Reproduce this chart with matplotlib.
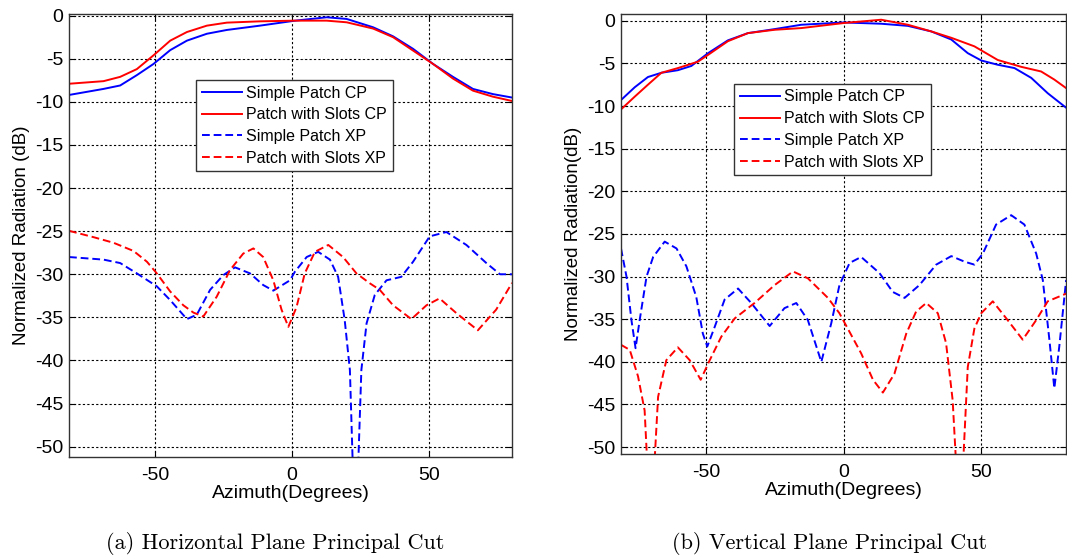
import numpy as np
import matplotlib
matplotlib.use("Agg")
import matplotlib.pyplot as plt

plt.rcParams['font.family'] = ['Liberation Sans', 'DejaVu Sans']
plt.rcParams['axes.unicode_minus'] = False

labels = ["Simple Patch CP", "Patch with Slots CP", "Simple Patch XP", "Patch with Slots XP"]

# (a) horizontal plane principal cut
h_sp_cp_x = [-81.5, -68.9, -62.8, -56.7, -50.6, -44.5, -38.4, -31.1, -23.8, -11.7, 1.2, 12.7, 20, 29.7,
             37, 44.3, 51.6, 58.9, 66.2, 73.5, 80.5]
h_sp_cp_y = [-9.2, -8.5, -8.1, -6.9, -5.6, -4.0, -2.9, -2.1, -1.66, -1.16, -0.58, -0.19, -0.38, -1.35,
             -2.4, -3.85, -5.6, -7.1, -8.5, -9.1, -9.5]
h_ps_cp_x = [-81.5, -68.9, -62.8, -56.7, -50.6, -44.5, -38.4, -31.1, -23.8, -11.7, 1.2, 12.7, 20, 29.7,
             37, 44.3, 51.6, 58.9, 66.2, 73.5, 80.5]
h_ps_cp_y = [-7.9, -7.6, -7.1, -6.2, -4.6, -2.9, -1.9, -1.16, -0.81, -0.66, -0.58, -0.58, -0.77, -1.5,
             -2.5, -4.05, -5.6, -7.3, -8.7, -9.4, -9.9]
h_sp_xp_x = [-81.5, -68.9, -62.8, -56.7, -49.4, -44.5, -38.4, -34.8, -29.9, -25.1, -20.8, -15.3, -10.5,
             -6.8, -0.7, 1.1, 5.4, 9.6, 13.9, 16.9, 19.3, 21.2, 23.2, 25.4, 27.3, 30.3, 34.6, 40.0, 44.3,
             50.4, 56.5, 63.8, 71.1, 76.1, 80.5]
h_sp_xp_y = [-28.0, -28.3, -28.7, -29.9, -31.4, -33.0, -35.2, -34.7, -31.8, -30.1, -29.2, -29.9, -31.25,
             -31.9, -30.7, -29.7, -28.0, -27.4, -28.3, -30.3, -35.3, -41.1, -62, -41.1, -35.7, -32.4, -30.7, -30.3, -28.55,
             -25.6, -25.1, -26.6, -28.7, -30.0, -30.0]
h_ps_xp_x = [-81.5, -72.5, -65.2, -57.9, -53, -49.4, -44.5, -39.7, -36, -32.4, -27.5, -22.6, -17.8, -14.1,
             -10.5, -6.8, -3.8, -1.3, 1.7, 4.7, 8.4, 13.3, 18.7, 23.6, 28.5, 32.1, 37, 43.7, 49.2, 54,
             60.1, 68, 74.7, 80.5]
h_ps_xp_y = [-24.96, -25.7, -26.35, -27.3, -28.55, -29.9, -32.0, -33.6, -34.45, -34.9, -32.6, -29.5, -27.6, -27.0,
             -28.0, -30.7, -34.1, -36.1, -33.8, -29.9, -27.4, -26.6, -28.0, -29.9, -31.05, -31.8, -33.6, -35.2, -33.6, -32.8,
             -34.5, -36.5, -34.1, -31.0]

# (b) vertical plane principal cut
v_sp_cp_x = [-81, -76, -71.2, -66.3, -60.3, -55.4, -49.3, -42.1, -34.8, -25.1, -15.4, 0, 13.7, 23.4, 31.9,
             39.2, 45.2, 50.1, 56.1, 62.2, 68.3, 74.3, 81]
v_sp_cp_y = [-9.3, -7.8, -6.6, -6.1, -5.8, -5.3, -3.8, -2.3, -1.45, -0.98, -0.47, -0.2, -0.35, -0.6, -1.25,
             -2.2, -3.8, -4.66, -5.16, -5.55, -6.7, -8.5, -10.2]
v_ps_cp_x = [-81, -76, -71.2, -66.3, -60.3, -53, -49.3, -42.1, -34.8, -25.1, -15.4, 0, 13.7, 23.4, 31.9,
             39.2, 47.6, 56.1, 64.6, 71.9, 76.7, 81]
v_ps_cp_y = [-10.4, -8.9, -7.5, -6.1, -5.55, -4.8, -4.0, -2.4, -1.45, -1.06, -0.86, -0.27, 0.12, -0.47, -1.25,
             -2.0, -3.0, -4.6, -5.4, -5.95, -6.9, -7.9]
v_sp_xp_x = [-81, -79, -77.2, -75.7, -74.2, -71.7, -69.3, -65.1, -60.8, -57.2, -53.6, -51.2, -49.6, -46.9,
             -43.3, -38.4, -33.6, -26.9, -21.5, -17.2, -13, -8.1, -4.5, -1.5, 2.2, 6.4, 13.1, 17.9, 22.2,
             27.6, 33.7, 39.2, 44, 47.6, 50.7, 55.5, 61, 65.8, 70.1, 72.5, 74.9, 76.7, 78.5, 81]
v_sp_xp_y = [-26.7, -30.0, -35.1, -38.4, -35.1, -30.0, -27.7, -25.9, -26.7, -28.8, -32.4, -36.7, -38.2, -35.9,
             -32.7, -31.4, -33.1, -35.8, -33.7, -33.1, -35.1, -40.0, -35.5, -31.0, -28.4, -27.7, -29.6, -31.8, -32.5,
             -31.0, -28.6, -27.6, -28.25, -28.6, -27.3, -23.9, -22.8, -23.9, -27.3, -30.4, -37.4, -43.1, -38.2, -30.4]
v_ps_xp_x = [-81, -77.8, -74.8, -72.4, -70.2, -67.5, -64.5, -60.3, -56, -52, -48.7, -44.5, -39.6, -32.4,
             -25.1, -18.4, -13, -5.7, -1.5, 6.4, 10.7, 14.3, 18.5, 22.8, 26.4, 30.1, 34.3, 37.3, 39.7,
             42.3, 45.2, 47.6, 50.1, 54.3, 59.7, 65.2, 70.1, 74.3, 81]
v_ps_xp_y = [-38.0, -38.6, -41.7, -45.7, -60, -44.1, -39.8, -38.3, -39.8, -42.1, -39.8, -37.05, -34.9, -33.1,
             -31.0, -29.4, -30.2, -32.5, -34.3, -39.0, -42.1, -43.6, -41.4, -36.7, -34.1, -33.1, -34.3, -37.8, -44.5,
             -60, -40.6, -36.1, -34.3, -32.9, -35.1, -37.4, -35.1, -32.9, -32.0]

fig = plt.figure(figsize=(10.67, 5.57), dpi=100)
ax1 = fig.add_axes([0.0647, 0.1795, 0.4152, 0.7955])
ax2 = fig.add_axes([0.582, 0.185, 0.4172, 0.790])


def draw(ax, data, xlim, ylim, ylabel, leg_anchor):
    styles = [('b', '-'), ('r', '-'), ('b', (0, (4, 2))), ('r', (0, (4, 2)))]
    for (x, y), (c, ls), lab in zip(data, styles, labels):
        ax.plot(x, y, color=c, linestyle=ls, lw=1.4, label=lab)
    ax.set_xlim(*xlim)
    ax.set_ylim(*ylim)
    ax.set_xticks([-50, 0, 50])
    ax.set_yticks(np.arange(0, -51, -5))
    ax.grid(True, color='k', linestyle=(0, (2, 2)), linewidth=0.8)
    ax.tick_params(direction='in', top=True, right=True, labelsize=14, length=4)
    ax.tick_params(axis='x', pad=7)
    ax.tick_params(axis='y', pad=4)
    for s in ax.spines.values():
        s.set_color('#333333')
        s.set_linewidth(1.0)
    ax.set_xlabel("Azimuth(Degrees)", fontsize=14, labelpad=1)
    ax.set_ylabel(ylabel, fontsize=13.5, labelpad=4)
    leg = ax.legend(loc='upper left', bbox_to_anchor=leg_anchor, fontsize=11.5, fancybox=False,
                    framealpha=1, edgecolor='#333333', handlelength=2.5, handletextpad=0.3,
                    labelspacing=0.42, borderpad=0.35, borderaxespad=0)
    leg.get_frame().set_linewidth(1.0)


draw(ax1, [(h_sp_cp_x, h_sp_cp_y), (h_ps_cp_x, h_ps_cp_y), (h_sp_xp_x, h_sp_xp_y), (h_ps_xp_x, h_ps_xp_y)],
     (-81.5, 80.5), (-51.2, 0.2), "Normalized Radiation (dB)", (0.287, 0.851))
draw(ax2, [(v_sp_cp_x, v_sp_cp_y), (v_ps_cp_x, v_ps_cp_y), (v_sp_xp_x, v_sp_xp_y), (v_ps_xp_x, v_ps_xp_y)],
     (-81, 81), (-50.8, 0.8), "Normalized Radiation(dB)", (0.254, 0.841))

fig.text(0.258, 0.025, "(a) Horizontal Plane Principal Cut", fontfamily='cmr10', fontsize=16, ha='center', va='center')
fig.text(0.777, 0.025, "(b) Vertical Plane Principal Cut", fontfamily='cmr10', fontsize=16, ha='center', va='center')

fig.savefig("out.png", dpi=100)
